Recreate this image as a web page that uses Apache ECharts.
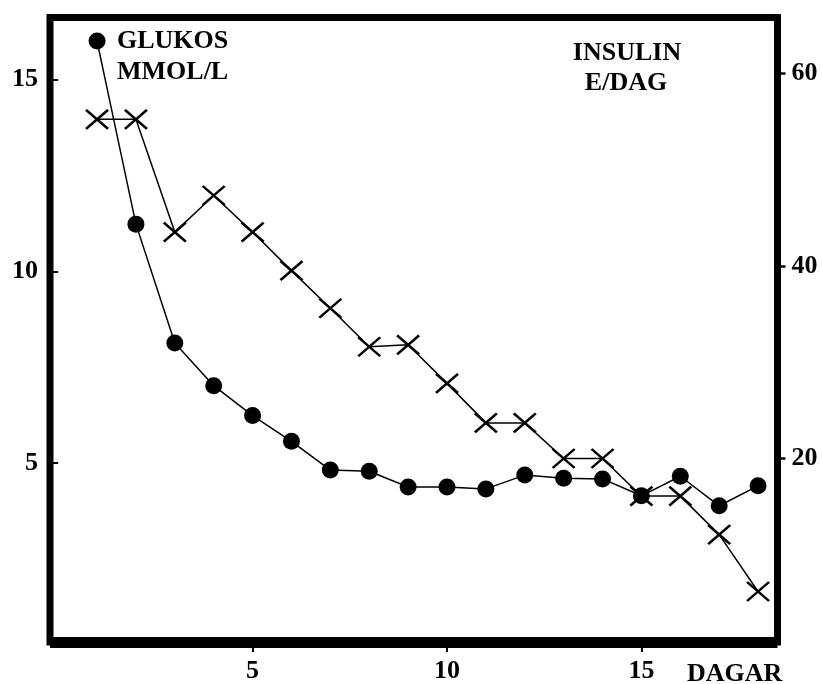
<!DOCTYPE html>
<html>
<head>
<meta charset="utf-8">
<script src="https://cdn.jsdelivr.net/npm/echarts@6/dist/echarts.min.js"></script>
<style>
  html, body { margin: 0; padding: 0; background: #fff; }
  #chart { width: 822px; height: 684px; }
</style>
</head>
<body>
<div id="chart"></div>
<script>
// dagar 1..18
const days = [1, 2, 3, 4, 5, 6, 7, 8, 9, 10, 11, 12, 13, 14, 15, 16, 17, 18];
// glukos mmol/l (vänster axel)
const glucose = [16.0, 11.23, 8.13, 7.02, 6.24, 5.57, 4.82, 4.79, 4.38, 4.38, 4.33, 4.69, 4.61, 4.59, 4.15, 4.66, 3.89, 4.41];
// insulin E/dag (höger axel)
const insulin = [55.2, 55.2, 43.5, 47.3, 43.5, 39.5, 35.6, 31.6, 31.8, 27.8, 23.7, 23.7, 20.0, 20.0, 16.1, 16.1, 12.1, 6.2];

const xTicks = [5, 10, 15];
const leftTicks = [5, 10, 15];
const rightTicks = [20, 40, 60];

const font = "'Liberation Serif', 'Times New Roman', serif";

let chartDom = document.getElementById("chart");
let myChart = echarts.init(chartDom);

const option = {
  animation: false,
  backgroundColor: "#fff",
  grid: {
    left: 50,
    right: 44.5,
    top: 17.5,
    bottom: 36.5,
    show: true,
    borderColor: "#000",
    borderWidth: 7,
    backgroundColor: "transparent",
  },
  xAxis: {
    type: "value",
    min: -0.21,
    max: 18.5,
    axisLine: { show: true, lineStyle: { color: "#000", width: 11, cap: "butt" } },
    axisTick: {
      show: true,
      customValues: xTicks,
      length: 10,
      lineStyle: { color: "#000", width: 2 },
    },
    axisLabel: {
      customValues: xTicks,
      margin: 16,
      color: "#000",
      fontFamily: font,
      fontWeight: "bold",
      fontSize: 26,
    },
    splitLine: { show: false },
  },
  yAxis: [
    {
      type: "value",
      position: "left",
      min: 0.34,
      max: 16.615,
      axisLine: { show: false },
      axisTick: {
        show: true,
        customValues: leftTicks,
        length: 8,
        lineStyle: { color: "#000", width: 2 },
      },
      axisLabel: {
        customValues: leftTicks,
        margin: 12,
        color: "#000",
        fontFamily: font,
        fontWeight: "bold",
        fontSize: 26,
      },
      splitLine: { show: false },
    },
    {
      type: "value",
      position: "right",
      min: 0.96,
      max: 65.77,
      axisLine: { show: false },
      axisTick: {
        show: true,
        customValues: rightTicks,
        length: 8,
        lineStyle: { color: "#000", width: 2.5 },
      },
      axisLabel: {
        customValues: rightTicks,
        margin: 14,
        color: "#000",
        fontFamily: font,
        fontWeight: "bold",
        fontSize: 26,
      },
      splitLine: { show: false },
    },
  ],
  graphic: [
    { type: "text", x: 117, y: 41, style: { text: "GLUKOS", font: "bold 26px " + font, fill: "#000", align: "left", verticalAlign: "middle" } },
    { type: "text", x: 117, y: 72, style: { text: "MMOL/L", font: "bold 26px " + font, fill: "#000", align: "left", verticalAlign: "middle" } },
    { type: "text", x: 627, y: 53, style: { text: "INSULIN", font: "bold 26px " + font, fill: "#000", align: "center", verticalAlign: "middle" } },
    { type: "text", x: 626, y: 83, style: { text: "E/DAG", font: "bold 26px " + font, fill: "#000", align: "center", verticalAlign: "middle" } },
    { type: "text", x: 687, y: 674, style: { text: "DAGAR", font: "bold 26px " + font, fill: "#000", align: "left", verticalAlign: "middle" } },
  ],
  series: [
    {
      name: "INSULIN",
      type: "line",
      yAxisIndex: 1,
      z: 2,
      silent: true,
      data: days.map((d, i) => [d, insulin[i]]),
      symbol: "path://M0,0L20,20M20,0L0,20",
      symbolSize: [22, 19],
      lineStyle: { color: "#000", width: 1.5 },
      itemStyle: { color: "#000", borderColor: "#000", borderWidth: 2.5 },
    },
    {
      name: "GLUKOS",
      type: "line",
      yAxisIndex: 0,
      z: 3,
      silent: true,
      data: days.map((d, i) => [d, glucose[i]]),
      symbol: "circle",
      symbolSize: 17,
      lineStyle: { color: "#000", width: 1.5 },
      itemStyle: { color: "#000", borderWidth: 0 },
    },
  ],
};

myChart.setOption(option, true);
</script>
</body>
</html>
